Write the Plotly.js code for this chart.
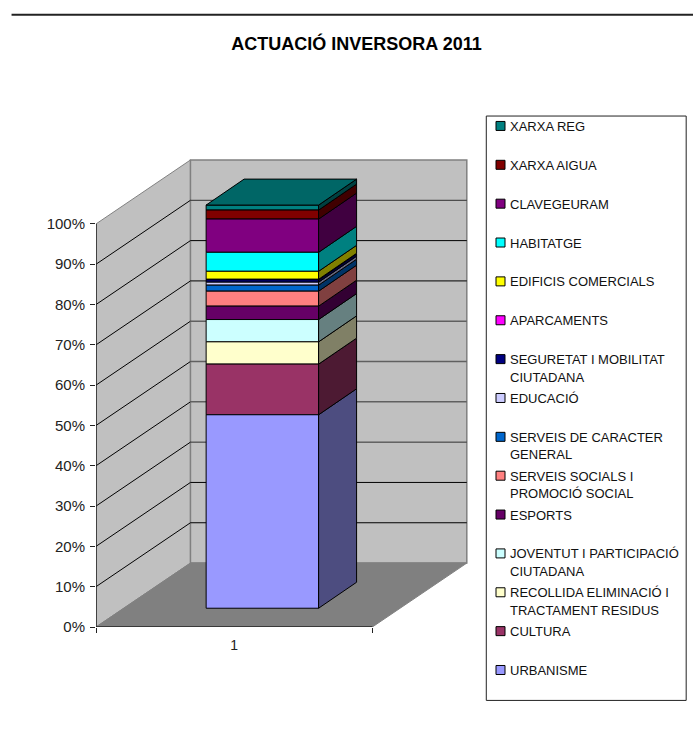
<!DOCTYPE html>
<html><head><meta charset="utf-8">
<script src="https://cdn.plot.ly/plotly-3.0.1.min.js"></script>
<style>html,body{margin:0;padding:0;background:#fff}#c{width:693px;height:738px}</style>
</head><body><div id="c"></div>
<script>
const categories = ['1'];
const seriesNames = ['URBANISME','CULTURA','RECOLLIDA ELIMINACIÓ I<br>TRACTAMENT RESIDUS','JOVENTUT I PARTICIPACIÓ<br>CIUTADANA','ESPORTS','SERVEIS SOCIALS I<br>PROMOCIÓ SOCIAL','SERVEIS DE CARACTER<br>GENERAL','EDUCACIÓ','SEGURETAT I MOBILITAT<br>CIUTADANA','APARCAMENTS','EDIFICIS COMERCIALS','HABITATGE','CLAVEGEURAM','XARXA AIGUA','XARXA REG'];
const seriesValues = [48.0,12.56,5.53,5.53,3.32,3.72,1.49,0.74,0.6,0.12,1.98,4.71,8.25,2.23,1.24];
const seriesColors = ['#9999FF','#993366','#FFFFCC','#CCFFFF','#660066','#FF8080','#0066CC','#CCCCFF','#000080','#FF00FF','#FFFF00','#00FFFF','#800080','#800000','#008080'];
const yTicks = [0,10,20,30,40,50,60,70,80,90,100];

// oblique 3-D box of the chart, in axis units
const W=693,H=738,L=95.5,R=225.3,T=159,B=110.5;
const pxX=276.5, pxY=4.035;
const xMin=0.5, xFront=1.5, dX=94.5/pxX, dY=64/pxY;
const barC=1.102, barW=0.407, barBase=18.8/pxY, barDX=38/pxX, barDY=26/pxY;
const xl=barC-barW/2, xr=barC+barW/2;
const xRange=[xMin,xMin+(W-L-R)/pxX], yRange=[0,(H-T-B)/pxY];

function shade(hex,f){const n=parseInt(hex.slice(1),16);
  return 'rgb('+[n>>16&255,n>>8&255,n&255].map(c=>Math.round(c*f)).join(',')+')';}
function poly(p){return 'M'+p.map(q=>q[0]+','+q[1]).join('L')+'Z';}

let cum=barBase;
const bars=[],sides=[];
seriesValues.forEach((v,i)=>{
  const b=cum;cum+=v;
  const nm=seriesNames[i].includes('<br>')?seriesNames[i]:seriesNames[i]+'<br>\u00a0';
  bars.push({type:'bar',name:nm,x:[Number(categories[0])],y:[v],base:[b],width:barW,offset:barC-1-barW/2,
    marker:{color:seriesColors[i],line:{color:'#000',width:1}},legendgroup:'g'+i,hoverinfo:'skip'});
  sides.push({type:'scatter',mode:'lines',x:[xr,xr+barDX,xr+barDX,xr,xr],y:[b,b+barDY,cum+barDY,cum,b],
    fill:'toself',fillcolor:shade(seriesColors[i],0.5),line:{color:'#000',width:1},showlegend:false,hoverinfo:'skip'});
});
const topFace={type:'scatter',mode:'lines',x:[xl,xr,xr+barDX,xl+barDX,xl],y:[cum,cum,cum+barDY,cum+barDY,cum],
  fill:'toself',fillcolor:shade(seriesColors[14],0.8),line:{color:'#000',width:1},showlegend:false,hoverinfo:'skip'};

const gray='#808080';
const shapes=[
 {type:'path',xref:'x',yref:'y',layer:'below',path:poly([[xMin,100],[xMin+dX,100+dY],[xMin+dX,dY],[xMin,0]]),fillcolor:'#C0C0C0',line:{color:gray,width:1}},
 {type:'path',xref:'x',yref:'y',layer:'below',path:poly([[xMin+dX,100+dY],[xFront+dX,100+dY],[xFront+dX,dY],[xMin+dX,dY]]),fillcolor:'#C0C0C0',line:{color:gray,width:1.5}},
 {type:'path',xref:'x',yref:'y',layer:'below',path:poly([[xMin,0],[xFront,0],[xFront+dX,dY],[xMin+dX,dY]]),fillcolor:'#808080',line:{color:gray,width:1}},
];
yTicks.slice(1,-1).forEach(v=>{
  const soft=v>=40&&v<=60, mid=v===30||v===90;
  shapes.push({type:'line',xref:'x',yref:'y',layer:'below',x0:xMin,y0:v,x1:xMin+dX,y1:v+dY,line:{color:'#000',width:1}});
  shapes.push({type:'line',xref:'x',yref:'y',layer:'below',x0:xMin+dX,y0:v+dY,x1:xFront+dX,y1:v+dY,
    line:{color:soft?'#606060':mid?'#303030':'#000',width:soft?1.5:1}});
});
shapes.push({type:'line',xref:'x',yref:'y',layer:'below',x0:xMin,x1:xMin,y0:0,y1:100,line:{color:'#222',width:1.5}});
shapes.push({type:'line',xref:'x',yref:'y',layer:'below',x0:xMin,x1:xFront,y0:0,y1:0,line:{color:'#222',width:1.5}});
// page furniture in paper coordinates: top rule and legend frame
const py=H-T-B, paperY=p=>(H-B-p)/py, pw=W-L-R, paperX=p=>(p-L)/pw;
shapes.push({type:'line',xref:'paper',yref:'paper',x0:paperX(11),x1:paperX(W),y0:paperY(14.7),y1:paperY(14.7),line:{color:'#222',width:2}});
shapes.push({type:'rect',xref:'paper',yref:'paper',x0:paperX(486),x1:paperX(686),y0:paperY(701),y1:paperY(116),fillcolor:'#fff',line:{color:'#222',width:1}});

const font='"Liberation Sans",Arial,sans-serif';
const layout={
 width:W,height:H,autosize:false,paper_bgcolor:'#fff',plot_bgcolor:'rgba(0,0,0,0)',
 margin:{l:L,r:R,t:T,b:B,pad:0},barmode:'overlay',shapes,
 title:{text:'<b>ACTUACIÓ INVERSORA 2011</b>',font:{family:font,size:18,color:'#000'},xref:'container',yref:'container',x:356.5/W,y:1-44/H,xanchor:'center',yanchor:'middle'},
 xaxis:{range:xRange,showgrid:false,zeroline:false,showline:false,tickmode:'array',tickvals:[1],ticktext:categories,ticks:'',ticklen:0,
   minor:{tickmode:'array',tickvals:[xMin,xFront],ticks:'outside',ticklen:5,tickwidth:1,tickcolor:'#222',showgrid:false},
   tickfont:{family:font,size:14,color:'#222'},ticklabelstandoff:8,fixedrange:true},
 yaxis:{range:yRange,showgrid:false,zeroline:false,showline:false,tickmode:'array',tickvals:yTicks,ticktext:yTicks.map(v=>v+'%'),
   ticks:'outside',ticklen:5,tickwidth:1,tickcolor:'#222',tickfont:{family:font,size:15,color:'#222'},ticklabelstandoff:2,fixedrange:true},
 legend:{xref:'container',yref:'container',x:486/W,y:1-111/H,xanchor:'left',yanchor:'top',traceorder:'grouped',tracegroupgap:2.06,maxheight:720,
   valign:'top',bgcolor:'rgba(0,0,0,0)',borderwidth:0,font:{family:font,size:13,color:'#111'},entrywidth:158,entrywidthmode:'pixels',itemclick:false,itemdoubleclick:false},
 showlegend:true
};
Plotly.newPlot('c',[...bars.slice().reverse(),...sides,topFace],layout,{displayModeBar:false,staticPlot:true}).then(()=>{
  const g=document.querySelector('.legend');
  g.querySelectorAll('.legendtext').forEach(t=>{
    t.setAttribute('x',24);
    t.querySelectorAll('tspan.line').forEach((s,i)=>{s.setAttribute('x',24);if(i>0)s.setAttribute('dy','17.5px');});
  });
  g.querySelectorAll('.legendpoints path').forEach(p=>{
    p.setAttribute('d','M4.5,4.5H-4.5V-4.5H4.5Z');p.setAttribute('transform','translate(14.5,0)');
  });
});
</script></body></html>
